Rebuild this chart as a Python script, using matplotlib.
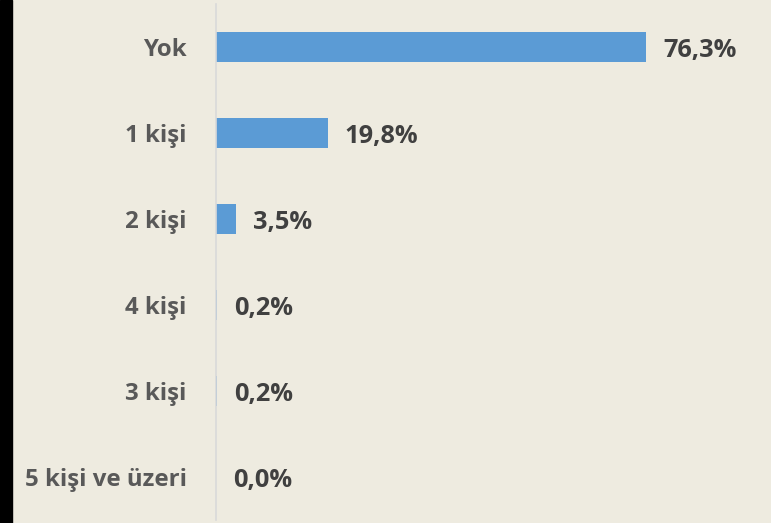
import matplotlib.pyplot as plt
from matplotlib.patches import Rectangle

categories = ["Yok", "1 kişi", "2 kişi", "4 kişi", "3 kişi", "5 kişi ve üzeri"]
values = [76.3, 19.8, 3.5, 0.2, 0.2, 0.0]
labels = ["76,3%", "19,8%", "3,5%", "0,2%", "0,2%", "0,0%"]

bg = "#EEEBE0"
fig = plt.figure(figsize=(7.71, 5.23), dpi=100, facecolor=bg)
fig.patches.append(Rectangle((0, 0), 12 / 771, 1, transform=fig.transFigure, color="black", zorder=10))

W, H = 771, 523
ax = fig.add_axes([216 / W, (H - 520) / H, (W - 216) / W, 516 / H])
ax.set_facecolor(bg)
y = list(range(len(categories)))
ax.barh(y, values, height=0.35, color="#5B9BD5")
ax.set_ylim(len(categories) - 0.5, -0.5)
ax.set_xlim(0, (W - 216) / 5.636)
for s in ["top", "right", "bottom"]:
    ax.spines[s].set_visible(False)
ax.spines["left"].set_color("#D9D9D9")
ax.spines["left"].set_linewidth(1.2)
ax.set_xticks([])
ax.set_yticks(y)
ax.set_yticklabels(categories, fontfamily="Open Sans", fontweight="bold", fontsize=17.3, color="#595959")
for t in ax.get_yticklabels():
    t.set_verticalalignment("center_baseline")
ax.tick_params(axis="y", length=0, pad=21)
for yi, v, lab in zip(y, values, labels):
    ax.annotate(lab, (v, yi), xytext=(17, 0), textcoords="offset pixels", va="center_baseline", ha="left",
                fontfamily="Open Sans", fontweight="bold", fontsize=18.3, color="#404040")

fig.savefig("out.png", dpi=100, facecolor=bg)
